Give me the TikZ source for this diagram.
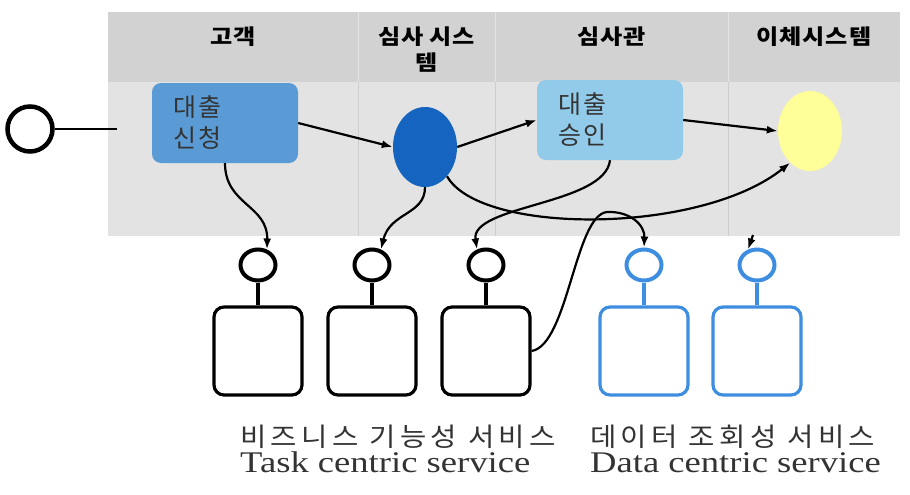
\documentclass[tikz,border=0pt]{standalone}
\usepackage{fontspec}
\setmainfont{Liberation Serif}
\newfontfamily\korfont[LetterSpace=8]{Noto Sans CJK KR}
\newfontfamily\korhead[FakeStretch=1.15,LetterSpace=4]{Noto Sans CJK KR}
\newfontfamily\korwide[FakeStretch=1.1,LetterSpace=17,WordSpace=1]{Noto Sans CJK KR}
\newfontfamily\enwide[FakeStretch=1.22]{Liberation Serif}
\usetikzlibrary{shapes.geometric,arrows.meta}
\definecolor{headgray}{HTML}{D2D2D2}
\definecolor{lanegray}{HTML}{E3E3E3}
\definecolor{linegray}{HTML}{CDCDCD}
\definecolor{textgray}{HTML}{333333}
\definecolor{applyblue}{HTML}{5B9BD5}
\definecolor{reviewblue}{HTML}{1565C0}
\definecolor{approveblue}{HTML}{92CBEA}
\definecolor{payyellow}{HTML}{FFFF99}
\definecolor{svcblue}{HTML}{3D8EE0}

\begin{document}
\begin{tikzpicture}[
    x=1pt,y=-1pt,
    lanehead/.style={font=\korhead\bfseries\fontsize{21}{26}\selectfont,align=center,anchor=north,inner sep=0pt},
    task/.style={fill=#1,rounded corners=9pt,minimum width=146pt,minimum height=80pt,
                 text width=104pt,align=left,inner sep=0pt,text=textgray,
                 font=\korfont\fontsize{25}{31}\selectfont},
    stateoval/.style={ellipse,fill=#1,minimum width=64pt,minimum height=80pt,inner sep=0pt},
    port/.style={ellipse,draw=#1,line width=4pt,minimum width=35pt,minimum height=31pt,inner sep=0pt},
    port/.default=black,
    svc/.style={draw=#1,line width=3.2pt,rounded corners=10pt,minimum size=88pt,inner sep=0pt},
    stem/.style={draw=#1,line width=3.5pt},
    flow/.style={line width=2.2pt,-{Latex[length=11pt,width=8pt]}},
    caption/.style={anchor=base west,inner sep=0pt,text=textgray},
  ]
  \useasboundingbox (0,0) rectangle (910,495);
  % Swimlanes
  \fill[headgray] (108,12) rectangle (900,82);
  \fill[lanegray] (108,82) rectangle (900,236);
  \foreach \x in {358,495,728}{
    \draw[line width=1pt,lanegray] (\x,12) -- (\x,82);
    \draw[line width=1pt,linegray] (\x,82) -- (\x,236);
  }
  \foreach \l/\r/\t in {108/358/고객,358/495/{심사 시스\\템},495/728/심사관,728/900/이체시스템}{
    \node[lanehead] (head\l) at ({(\l+\r)/2},27) {\t};
  }
  % Start
  \node[circle,draw,line width=4.5pt,minimum size=45pt] (start) at (30,129) {};
  \coordinate (stub) at (117,129);
  \draw[line width=2.8pt] (start) -- (stub);
  % Process
  \node[task=applyblue] (apply) at (225,123) {대출\\신청};
  \node[stateoval=reviewblue] (review) at (425,147) {};
  \node[task=approveblue] (approve) at (610,120) {대출\\승인};
  \node[stateoval=payyellow] (payment) at (810,131) {};
  % Services
  \foreach \i/\x/\c in {1/258/black,2/372/black,3/486/black,4/644/svcblue,5/757/svcblue}{
    \node[port=\c] (port\i) at (\x,265) {};
    \node[svc=\c] (svc\i) at (\x,351) {};
    \draw[stem=\c] (port\i) -- (svc\i);
  }
  % Flows
  \draw[flow] (apply.east) -- (review.west);
  \draw[flow] (review.east) -- (approve.west);
  \draw[flow] (approve.east) -- (payment.west);
  \draw[flow] (apply.south) .. controls (225,205) and (268,205) .. (port1.60);
  \draw[flow] (review.south) .. controls (425,215) and (390,212) .. (port2.60);
  \draw[flow] (approve.south) .. controls (605,205) and (470,205) .. (port3.120);
  \draw[flow] (review.-53) .. controls (480,235) and (700,235) .. (payment.-122);
  \draw[flow] (svc3.east) .. controls (568,345) and (575,215) .. (607,212)
    .. controls (630,211) and (645,225) .. (port4.north);
  \coordinate (tick) at (753,235);
  \draw[flow] (tick) -- (port5.120);
  % Captions
  \node[caption,font=\korwide\fontsize{26}{30}\selectfont] (taskkr) at (240,446) {비즈니스 기능성 서비스};
  \node[caption,font=\enwide\fontsize{30}{34}\selectfont] (tasken) at (240,472) {Task centric service};
  \node[caption,font=\korwide\fontsize{26}{30}\selectfont] (datakr) at (590,446) {데이터 조회성 서비스};
  \node[caption,font=\enwide\fontsize{30}{34}\selectfont] (dataen) at (590,472) {Data centric service};
\end{tikzpicture}
\end{document}
